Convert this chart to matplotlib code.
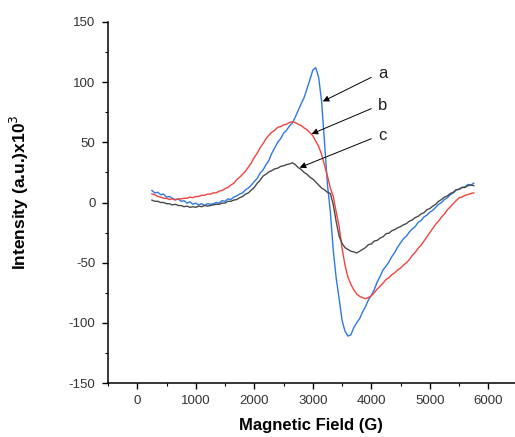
import numpy as np
import matplotlib

matplotlib.use("Agg")

import matplotlib.pyplot as plt
from matplotlib.ticker import MultipleLocator

plt.rcParams["font.family"] = ["Liberation Sans", "DejaVu Sans"]
plt.rcParams["axes.unicode_minus"] = False

# magnetic field, G (same grid for all three spectra)
field = np.arange(250, 5751, 50)

# sample a (blue)
intensity_a = [
    10, 8, 8.5, 6.5, 7, 4.5, 5, 3.5, 2.5, 3,
    1, 1.5, -0.5, 0.5, -1.5, -0.5, -2, -1, -2.5, -1,
    -1.5, -1, 0, -0.5, 1.5, 1, 3, 2.5, 4.5, 5.5,
    7, 8, 10.5, 12, 14.5, 17.5, 20, 24.5, 27, 31.5,
    35, 41, 45.5, 50, 53, 57.5, 60, 63.5, 66, 71,
    76.5, 82, 87, 94.5, 102, 110, 112, 104, 84, 50,
    15, -8, -40, -63, -80, -98, -107, -111, -110, -104,
    -100, -96.5, -91, -86.5, -81, -77, -72.5, -66, -61.5, -56,
    -53, -49.5, -45, -41.5, -37, -33.5, -30, -28, -24.5, -22,
    -20, -16.5, -15, -12, -10.5, -8, -6.5, -4, -1.5, 0,
    2.5, 4, 6.5, 8, 10.5, 11, 12.5, 13, 15, 14.5,
    16,
]

# sample b (red)
intensity_b = [
    7, 6.5, 5, 4.5, 3.5, 3.5, 2.5, 3, 2, 3,
    3, 3.5, 3.5, 4.5, 4, 5, 5, 6, 6, 7,
    7, 8, 8, 9.5, 10, 11.5, 12.5, 14.5, 16, 19,
    21, 23.5, 26, 29.5, 33, 37.5, 41, 45.5, 49, 53,
    56, 58.5, 60, 62.5, 63, 64.5, 65, 66.5, 67, 66.5,
    65, 64, 62, 60.5, 58, 55.5, 51, 46.5, 40, 31,
    22, 12, 5, -8, -20, -38, -52, -62, -68, -72.5,
    -76, -78, -79, -80, -79, -77.5, -75, -72, -69.5, -67,
    -64, -62.5, -60, -58.5, -56, -54.5, -52, -50, -47.5, -44,
    -41.5, -38, -35.5, -32, -28.5, -25, -21.5, -18, -15.5, -12,
    -9.5, -6, -3.5, -1, 1.5, 4, 4.5, 6, 6.5, 7.5,
    8,
]

# sample c (dark grey)
intensity_c = [
    2, 1, 1, 0, 0, -1, -1, -2, -1.5, -2.5,
    -2.5, -3.5, -3, -4, -3.5, -4, -3, -3.5, -2.5, -3,
    -2.5, -2, -1.5, -1.5, -0.5, -0.5, 1, 1, 2, 2.5,
    4, 5, 7, 8, 10.5, 12.5, 16, 18.5, 22, 23.5,
    25.5, 26.5, 28, 28.5, 30, 30.5, 31.5, 32, 33, 31.5,
    29, 27.5, 25, 23.5, 21, 19.5, 17, 14.5, 12, 10.5,
    8.5, 7.5, -2, -16, -28, -34, -37.5, -39, -40.5, -41,
    -42, -40.5, -39, -37.5, -35, -34.5, -32, -31.5, -29.5, -28.5,
    -26, -25.5, -23.5, -22.5, -21, -20, -18.5, -17.5, -15.5, -14.5,
    -12.5, -11.5, -9.5, -8.5, -6, -5, -3, -1.5, 1, 2.5,
    4.5, 5.5, 7.5, 8.5, 10.5, 11, 12.5, 12.5, 14, 14.5,
    14,
]

labels = ["a", "b", "c"]
# where each label's arrow ends on its curve (field, intensity)
arrow_tips = [(3170, 84), (2980, 57), (2775, 29)]

fig = plt.figure(figsize=(5.15, 4.37), dpi=100)
ax = fig.add_axes([108 / 515, 54 / 437, 406.7 / 515, 361 / 437])

ax.plot(field, intensity_a, color="#2f78e4", lw=1.0)
ax.plot(field, intensity_b, color="#f0443f", lw=1.0)
ax.plot(field, intensity_c, color="#4a4a4a", lw=1.0)

ax.set_xlim(-500, 6450)
ax.set_ylim(-150, 150)
ax.xaxis.set_major_locator(MultipleLocator(1000))
ax.xaxis.set_minor_locator(MultipleLocator(500))
ax.yaxis.set_major_locator(MultipleLocator(50))
ax.yaxis.set_minor_locator(MultipleLocator(25))

for side in ("top", "right"):
    ax.spines[side].set_visible(False)
for side in ("left", "bottom"):
    ax.spines[side].set_linewidth(1.1)

ax.tick_params(which="major", direction="out", length=4, width=1.0,
               labelsize=9.5, labelcolor="#333333", pad=5)
ax.tick_params(which="minor", direction="out", length=2.5, width=0.8)

ax.set_xlabel("Magnetic Field (G)", fontsize=12, fontweight="bold")
ax.set_ylabel("Intensity (a.u.)x10$^3$", fontsize=12.5, fontweight="bold")
ax.xaxis.set_label_coords(0.5, -0.097)
ax.yaxis.set_label_coords(-0.19, 0.53)

# arrow starts just left of each letter
for lab, tip, ty in zip(labels, arrow_tips, [107, 81, 56]):
    ax.annotate("", xy=tip, xytext=(4000, ty - 3),
                arrowprops=dict(arrowstyle="-|>", color="black", lw=0.7,
                                mutation_scale=9, shrinkA=0, shrinkB=0))
    ax.text(4190, ty, lab, fontsize=12, ha="center", va="center", color="#222222")

fig.savefig("out.png", dpi=100)
